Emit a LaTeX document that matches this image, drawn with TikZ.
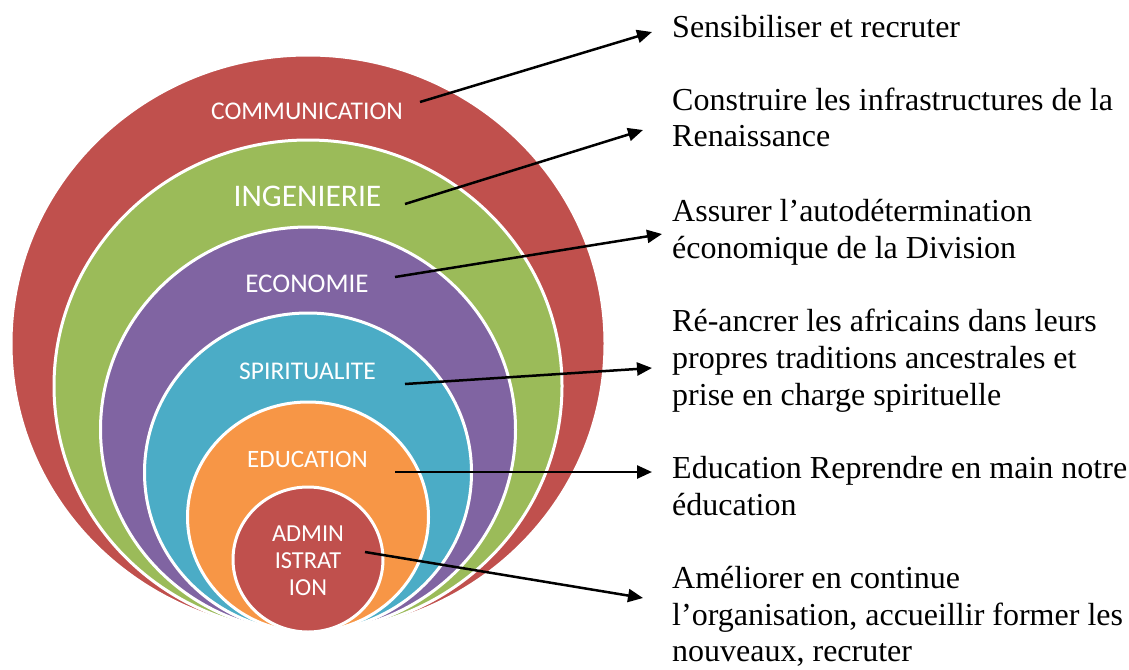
\documentclass[tikz,border=0pt]{standalone}
\usepackage{fontspec}
\setmainfont{Liberation Serif}
\newfontfamily\labelfont{Carlito}
\usetikzlibrary{arrows.meta, positioning}

\definecolor{ringred}{HTML}{C0504D}
\definecolor{ringgreen}{HTML}{9BBB59}
\definecolor{ringviolet}{HTML}{8064A2}
\definecolor{ringblue}{HTML}{4BACC6}
\definecolor{ringorange}{HTML}{F79646}

\tikzset{
  ring/.style={draw=white, line width=3},
  ringlabel/.style={text=white, inner sep=0, anchor=base},
  goal/.style={anchor=base west, inner sep=0, align=left, font=\fontsize{32}{36.7}\selectfont},
  arr/.style={line width=2.5, -{Triangle[length=15,width=13]}}
}

\begin{document}
\begin{tikzpicture}[x=1pt, y=-1pt]
  \useasboundingbox (0,0) rectangle (1129,669);
  % nested rings, all touching at the bottom
  \foreach \rx/\ry/\col in {297/288.5/ringred, 254/246/ringgreen, 207.5/202.5/ringviolet,
                            163.5/159.5/ringblue, 120.5/115/ringorange, 75/72.5/ringred}{
    \draw[ring, fill=\col] (308,632-\ry) ellipse [x radius=\rx, y radius=\ry];
  }
  \node[ringlabel, font=\labelfont\fontsize{25.5}{30}\selectfont] (comm) at (307,119) {COMMUNICATION};
  \node[ringlabel, font=\labelfont\fontsize{31.5}{36}\selectfont] (ingen) at (307.5,206.7) {INGENIERIE};
  \node[ringlabel, font=\labelfont\fontsize{27}{32}\selectfont] (eco) at (307,292.3) {ECONOMIE};
  \node[ringlabel, font=\labelfont\fontsize{25.5}{30}\selectfont] (spirit) at (307.5,379.3) {SPIRITUALITE};
  \node[ringlabel, font=\labelfont\fontsize{25}{30}\selectfont] (educ) at (307.5,467.3) {EDUCATION};
  % last line sits on the anchor
  \node[ringlabel, align=center, font=\labelfont\fontsize{24.4}{26.7}\selectfont] (admin) at (308,595) {ADMIN\\ISTRAT\\ION};

  % goals on the right
  \node[goal] (g-comm) at (672,37.3) {Sensibiliser et recruter};
  \node[goal] (g-ingen) at (672,146.7) {Construire les infrastructures de la\\Renaissance};
  \node[goal] (g-eco) at (672,258.3) {Assurer l’autodétermination\\économique de la Division};
  \node[goal] (g-spirit) at (672,405) {Ré-ancrer les africains dans leurs\\propres traditions ancestrales et\\prise en charge spirituelle};
  \node[goal] (g-educ) at (672,515) {Education Reprendre en main notre\\éducation};
  \node[goal] (g-admin) at (672,661.7) {Améliorer en continue\\l’organisation, accueillir former les\\nouveaux, recruter};

  % arrows
  \foreach \n/\fx/\fy/\tx/\ty in {comm/420/102/652/32, ingen/405/204/643/130, eco/395/277/662/234,
                                  spirit/405/384/652/368, educ/395/472/652/472, admin/365/552/643/598}{
    \coordinate (\n-from) at (\fx,\fy);
    \coordinate (\n-to) at (\tx,\ty);
    \draw[arr] (\n-from) -- (\n-to);
  }
\end{tikzpicture}
\end{document}
